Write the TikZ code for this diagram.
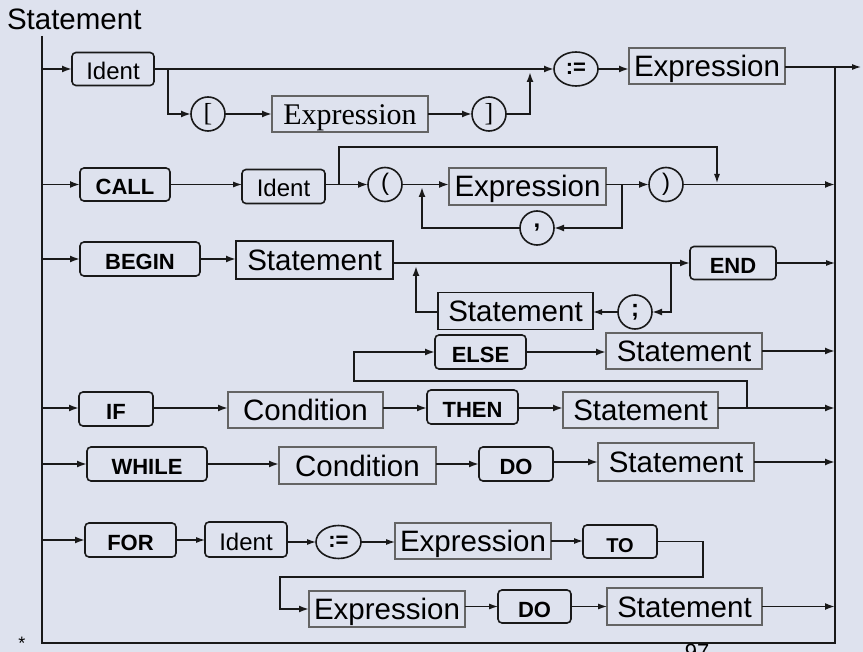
\documentclass[tikz,border=0pt]{standalone}
\usepackage{fontspec}
\setmainfont{Liberation Sans}
\newfontfamily\seriffont{Liberation Serif}
\usetikzlibrary{arrows.meta,calc,shapes.geometric}
\definecolor{bg}{RGB}{222,226,238}
\definecolor{ntgray}{RGB}{100,100,100}
\definecolor{lc}{RGB}{25,25,25}
\begin{document}
\begin{tikzpicture}[x=1pt,y=-1pt,
  every node/.style={inner sep=0pt, outer sep=0pt},
  nt/.style={draw=ntgray, line width=1.2, font=\fontsize{29.5}{31}\selectfont, minimum height=36, text height=23pt, text depth=2pt},
  ntd/.style={nt, draw=lc, line width=1.8},
  term/.style={draw=lc, line width=1.6, rounded corners=4, font=\bfseries\fontsize{22}{24}\selectfont, minimum height=34, text height=21pt, text depth=0pt},
  idb/.style={term, font=\fontsize{24}{26}\selectfont, text height=21pt},
  circ/.style={draw=lc, line width=1.6, circle, minimum size=34, font=\fontsize{24}{26}\selectfont},
  ell/.style={draw=lc, line width=1.6, ellipse, minimum width=44, minimum height=34, font=\bfseries\fontsize{22}{24}\selectfont},
  ln/.style={draw=lc, line width=1.8},
  arr/.style={ln, -{Latex[length=10pt,width=7pt]}},
  tarr/.style={draw=lc, line width=1.1, -{Latex[length=9pt,width=6pt]}},
]
\fill[bg] (0,0) rectangle (863,652);
\useasboundingbox (0,0) rectangle (863,652);

\node[font=\fontsize{29.5}{31}\selectfont, anchor=base west] (title) at (7,30) {Statement};

% frame
\coordinate (top) at (42,36);
\coordinate (bl) at (42,643);
\coordinate (br) at (835,643);
\coordinate (rt) at (835,67);
\draw[ln] (top) -- (bl) -- (br) -- (rt);

% Row 1
\node[idb, minimum width=82, minimum height=33] (id1) at (113,69) {Ident};
\node[circ, font=\seriffont\fontsize{26}{28}\selectfont] (lb) at (208,114) {[};
\node[nt, font=\seriffont\fontsize{30}{31}\selectfont, minimum width=156] (ex1) at (350,114) {Expression};
\node[circ, font=\seriffont\fontsize{26}{28}\selectfont] (rb) at (489,114) {]};
\node[ell] (as1) at (576,69) {:=};
\node[nt, minimum width=156] (ex2) at (707,66) {Expression};
\coordinate (out) at (861,67);
\coordinate (j1) at (168,69);
\coordinate (j2) at (530,72);
\draw[arr] (top |- id1) -- (id1.west);
\draw[arr] (id1.east) -- (as1.west);
\draw[arr] (j1) |- (lb.west);
\draw[arr] (lb.east) -- (ex1.west);
\draw[arr] (ex1.east) -- (rb.west);
\draw[arr] (rb.east) -| (j2);
\draw[arr] (as1.east) -- (ex2.west |- as1);
\draw[tarr] (ex2.east |- out) -- (out);

% Row 2
\node[term, minimum width=90, minimum height=33] (call) at (125,184.5) {CALL};
\node[idb, minimum width=83, minimum height=34] (id2) at (283.5,186.5) {Ident};
\node[circ] (lp) at (385,184.5) {(};
\node[nt, minimum width=157, minimum height=37] (ex3) at (527.5,186.5) {Expression};
\node[circ] (rp) at (666,184.5) {)};
\node[circ, font=\bfseries\fontsize{24}{26}\selectfont] (comma) at (537,228) {,};
\coordinate (b2a) at (339,184.5);
\coordinate (b2b) at (717,147);
\coordinate (b2c) at (717,183);
\coordinate (l2r) at (622,184.5);
\coordinate (l2l) at (422,187);
\draw[arr] (top |- call) -- (call.west);
\draw[tarr] (call.east) -- (call.east -| id2.west);
\draw[arr] (id2.east |- lp) -- (lp.west);
\draw[tarr] (b2a) |- (b2b) -- (b2c);
\draw[arr] (lp.east) -- (lp.east -| ex3.west);
\draw[arr] (ex3.east |- rp) -- (rp.west);
\draw[arr] (l2r) |- (comma.east);
\draw[arr] (comma.west) -| (l2l);
\draw[arr] (rp.east) -- (rp.east -| rt);

% Row 3
\node[term, minimum width=120] (begin) at (140,259) {BEGIN};
\node[ntd, minimum width=157, minimum height=38] (st1) at (314.5,260) {Statement};
\node[term, minimum width=86, minimum height=33] (end) at (733,263) {END};
\node[circ, font=\bfseries\fontsize{24}{26}\selectfont] (semi) at (635,312) {;};
\node[ntd, minimum width=155, minimum height=37] (st2) at (515.5,311) {Statement};
\coordinate (l3r) at (671,263);
\coordinate (l3l) at (416,266);
\draw[arr] (top |- begin) -- (begin.west);
\draw[arr] (begin.east) -- (begin.east -| st1.west);
\draw[arr] (st1.east |- end) -- (end.west);
\draw[tarr] (end.east) -- (end.east -| rt);
\draw[arr] (l3r) |- (semi.east);
\draw[tarr] (semi.west) -- (st2.east |- semi);
\draw[arr] (st2.west |- semi) -| (l3l);

% Row 4
\node[term, minimum width=74] (if) at (116,409) {IF};
\node[nt, minimum width=155] (cond1) at (305.5,410) {Condition};
\node[term, minimum width=91] (then) at (472.5,407) {THEN};
\node[nt, minimum width=155] (st3) at (640.5,410) {Statement};
\node[term, minimum width=91] (else) at (480.5,352) {ELSE};
\node[nt, minimum width=156] (st4) at (684,351) {Statement};
\coordinate (m4) at (42,408);
\coordinate (e1) at (747,408);
\coordinate (e2) at (354,381);
\draw[arr] (m4) -- (m4 -| if.west);
\draw[arr] (if.east |- m4) -- (m4 -| cond1.west);
\draw[arr] (cond1.east |- m4) -- (m4 -| then.west);
\draw[arr] (then.east |- m4) -- (m4 -| st3.west);
\draw[arr] (st3.east |- m4) -- (m4 -| rt);
\draw[arr] (e1) |- (e2) |- (else.west);
\draw[arr] (else.east) -- (else.east -| st4.west);
\draw[arr] (st4.east) -- (st4.east -| rt);

% Row 5
\node[term, minimum width=120] (while) at (147,464) {WHILE};
\node[nt, minimum width=157, minimum height=37] (cond2) at (357.5,465.5) {Condition};
\node[term, minimum width=74] (do1) at (516,464) {DO};
\node[nt, minimum width=156, minimum height=38] (st5) at (676,462) {Statement};
\draw[arr] (top |- while) -- (while.west);
\draw[arr] (while.east) -- (while.east -| cond2.west);
\draw[arr] (cond2.east |- do1) -- (do1.west);
\draw[arr] (do1.east |- st5) -- (st5.west);
\draw[arr] (st5.east) -- (st5.east -| rt);

% Row 6
\node[term, minimum width=91] (for) at (130.5,540) {FOR};
\node[idb, minimum width=82, minimum height=35] (id3) at (246,539.5) {Ident};
\node[ell, minimum width=45, minimum height=33] (as2) at (338.5,542) {:=};
\node[nt, minimum width=156] (ex4) at (473,541) {Expression};
\node[term, minimum width=74, minimum height=33, font=\bfseries\fontsize{20}{22}\selectfont] (to) at (620,541.5) {TO};
\node[nt, minimum width=156] (ex5) at (387,609) {Expression};
\node[term, minimum width=73, minimum height=33] (do2) at (534.5,606.5) {DO};
\node[nt, minimum width=155, minimum height=37] (st6) at (684.5,606.5) {Statement};
\coordinate (f1) at (703,577);
\coordinate (f2) at (280,577);
\draw[arr] (top |- for) -- (for.west);
\draw[tarr] (for.east) -- (for.east -| id3.west);
\draw[tarr] (id3.east |- as2) -- (as2.west);
\draw[tarr] (as2.east) -- (as2.east -| ex4.west);
\draw[tarr] (ex4.east) -- (ex4.east -| to.west);
\draw[arr] (to.east) -| (f1) -- (f2) |- (ex5.west);
\draw[tarr] (ex5.east |- do2) -- (do2.west);
\draw[tarr] (do2.east) -- (do2.east -| st6.west);
\draw[arr] (st6.east) -- (st6.east -| rt);

% slide marks
\node[font=\fontsize{18}{18}\selectfont] (star) at (22,643) {*};
\node[font=\fontsize{22}{24}\selectfont, anchor=north] (pg) at (697,644) {97};
\end{tikzpicture}
\end{document}
